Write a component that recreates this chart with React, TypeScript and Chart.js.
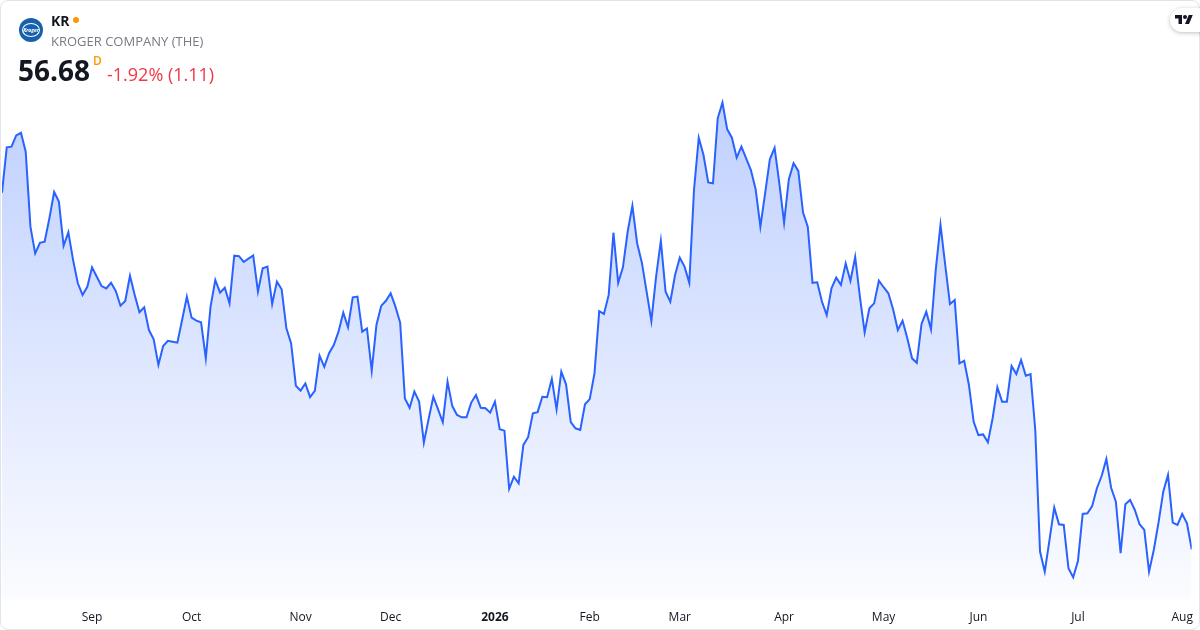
import React, { useEffect, useRef } from "react";
import { Chart, registerables } from "chart.js";

Chart.register(...registerables);

// ---- header texts ----
const SYMBOL = "KR";
const COMPANY = "KROGER COMPANY (THE)";
const LAST_PRICE = "56.68";
const INTERVAL = "D";
const CHANGE_TEXT = "-1.92% (1.11)";

// ---- daily closes, one array per month (trading days) ----
const aug2025 = [71.92, 73.86, 73.89, 74.37, 74.48, 73.67, 70.47, 69.33, 69.78, 69.83, 70.83, 71.95, 71.54, 69.65, 70.23, 69.04, 68.05, 67.55, 67.9];
const sep2025 = [68.73, 68.33, 67.93, 67.83, 68.07, 67.72, 67.09, 67.29, 68.37, 67.55, 66.81, 67.02, 66.05, 65.65, 64.56, 65.37, 65.59, 65.55, 65.51, 66.48, 67.47];
const oct2025 = [66.58, 66.45, 66.38, 64.84, 67.05, 68.19, 67.65, 67.86, 67.19, 69.23, 69.21, 68.96, 69.1, 69.24, 67.69, 68.69, 68.76, 67.16, 68.12, 67.79, 66.12, 65.48, 63.67];
const nov2025 = [63.46, 63.77, 63.18, 63.45, 64.95, 64.48, 65.06, 65.41, 65.98, 66.79, 66.17, 67.45, 67.48, 65.98, 66.12, 64.31, 66.27, 67.08, 67.3];
const dec2025 = [67.62, 67.05, 66.37, 63.13, 62.73, 63.42, 62.99, 61.24, 62.24, 63.2, 62.66, 62.11, 63.84, 62.8, 62.42, 62.32, 62.32, 62.95, 63.27, 62.73, 62.71, 62.52];
const jan2026 = [62.99, 61.81, 61.75, 59.26, 59.78, 59.5, 61.14, 61.47, 62.49, 62.54, 63.2, 63.18, 63.96, 62.66, 64.27, 63.73, 62.11, 61.85, 61.78, 62.88];
const feb2026 = [63.1, 64.2, 66.86, 66.74, 67.55, 70.21, 68.07, 68.73, 70.25, 71.36, 69.76, 68.93, 67.69, 66.44, 68.33, 69.86, 67.69, 67.26, 68.4];
const mar2026 = [69.14, 68.76, 68.07, 72.04, 74.27, 73.53, 72.36, 72.32, 75.1, 75.77, 74.63, 74.27, 73.42, 73.89, 73.39, 72.89, 72.07, 70.47, 71.89, 73.35, 73.84, 72.32];
const apr2026 = [70.64, 72.49, 73.18, 72.85, 71.07, 70.47, 68.07, 68.09, 67.26, 66.69, 67.83, 68.29, 67.98, 68.9, 68.15, 69.18, 67.47, 65.95, 66.98, 67.19, 68.16];
const may2026 = [67.88, 67.62, 66.94, 66.05, 66.45, 65.7, 64.84, 64.65, 66.31, 66.83, 66.08, 68.62, 70.55, 68.83, 67.16, 67.33, 64.63, 64.74, 63.7, 62.13];
const jun2026 = [61.56, 61.59, 61.25, 62.28, 63.6, 62.99, 62.99, 64.51, 64.17, 64.77, 64.1, 64.17, 61.78, 56.58, 55.72, 57.08, 58.46, 57.75, 57.72, 55.87, 55.48];
const jul2026 = [56.18, 58.19, 58.22, 58.53, 59.29, 59.81, 60.54, 59.31, 58.71, 56.51, 58.6, 58.79, 58.36, 57.75, 57.51, 55.72, 56.65, 57.82, 59.14, 59.86, 57.82, 57.72];
const aug2026 = [58.19, 57.79, 56.68];

const monthSeries = [aug2025, sep2025, oct2025, nov2025, dec2025, jan2026, feb2026, mar2026, apr2026, may2026, jun2026, jul2026, aug2026];
// tick label shown at the first trading day of each month array
const monthLabels = ["", "Sep", "Oct", "Nov", "Dec", "2026", "Feb", "Mar", "Apr", "May", "Jun", "Jul", "Aug"];
const boldLabels = ["2026"];

// visible price range of the pane
const Y_MIN = 54.52;
const Y_MAX = 76.31;

const FONT = "'Open Sans', 'Noto Sans', Arial, sans-serif";

const prices: number[] = monthSeries.flat();
const tickPositions: number[] = [];
const tickText: Record<number, string> = {};
{
  let start = 0;
  monthSeries.forEach((m, k) => {
    if (monthLabels[k]) {
      tickPositions.push(start);
      tickText[start] = monthLabels[k];
    }
    start += m.length;
  });
}

function ChartCanvas() {
  const ref = useRef<HTMLCanvasElement | null>(null);
  useEffect(() => {
    if (!ref.current) return;
    const chart = new Chart(ref.current, {
      type: "line",
      data: {
        datasets: [
          {
            data: prices.map((v, i) => ({ x: i, y: v })),
            borderColor: "#2962ff",
            borderWidth: 2,
            pointRadius: 0,
            pointHoverRadius: 0,
            tension: 0,
            fill: "start",
            backgroundColor: (ctx: any) => {
              const { chart } = ctx;
              const area = chart.chartArea;
              if (!area) return "rgba(41,98,255,0.15)";
              const g = chart.ctx.createLinearGradient(0, area.top, 0, area.bottom);
              g.addColorStop(0, "rgba(41,98,255,0.30)");
              g.addColorStop(1, "rgba(41,98,255,0.02)");
              return g;
            },
          },
        ],
      },
      options: {
        animation: false,
        responsive: true,
        maintainAspectRatio: false,
        layout: { padding: { left: 2, right: 8.3, top: 90, bottom: 0 } },
        plugins: { legend: { display: false }, tooltip: { enabled: false } },
        events: [],
        scales: {
          x: {
            type: "linear",
            min: 0,
            max: prices.length - 1,
            grid: { display: false, drawTicks: false },
            border: { display: false },
            afterBuildTicks: (scale: any) => {
              scale.ticks = tickPositions.map((v) => ({ value: v }));
            },
            afterFit: (scale: any) => {
              scale.paddingLeft = 0;
              scale.paddingRight = 0;
              scale.height = 30.2;
            },
            ticks: {
              autoSkip: false,
              maxRotation: 0,
              padding: 11,
              color: "#131722",
              font: (ctx: any) => ({
                family: FONT,
                size: 12,
                weight: ctx.tick && boldLabels.includes(ctx.tick.label) ? "bold" : "normal",
              }),
              callback: (v: any) => tickText[v as number] ?? "",
            },
          },
          y: { display: false, min: Y_MIN, max: Y_MAX },
        },
      },
    } as any);
    return () => chart.destroy();
  }, []);
  return <canvas ref={ref} />;
}

export default function App() {
  return (
    <div
      style={{
        position: "fixed",
        left: 0,
        top: 0,
        width: 1200,
        height: 630,
        background: "#ffffff",
        overflow: "hidden",
        fontFamily: FONT,
      }}
    >
      <div style={{ position: "absolute", left: 0, top: 0, width: 1200, height: 630 }}>
        <ChartCanvas />
      </div>
      {/* frame */}
      <div
        style={{
          position: "absolute",
          left: 0,
          top: 0,
          width: 1200,
          height: 630,
          boxSizing: "border-box",
          border: "1px solid #e0e3eb",
          borderRadius: 8,
          pointerEvents: "none",
        }}
      />
      {/* logo */}
      <div
        style={{
          position: "absolute",
          left: 19,
          top: 18,
          width: 24,
          height: 24,
          borderRadius: 12,
          background: "#1660ad",
          display: "flex",
          alignItems: "center",
          justifyContent: "center",
        }}
      >
        <div
          style={{
            width: 18,
            height: 14,
            borderRadius: "50%",
            border: "1px solid #ffffff",
            boxSizing: "border-box",
            display: "flex",
            alignItems: "center",
            justifyContent: "center",
            color: "#ffffff",
            fontSize: 5,
            fontStyle: "italic",
            fontWeight: 700,
            lineHeight: "6px",
          }}
        >
          Kroger
        </div>
      </div>
      <div
        style={{
          position: "absolute",
          left: 51,
          top: 12,
          fontSize: 14,
          lineHeight: "18px",
          fontWeight: 700,
          color: "#131722",
        }}
      >
        {SYMBOL}
      </div>
      <div
        style={{
          position: "absolute",
          left: 73,
          top: 17,
          width: 6,
          height: 6,
          borderRadius: 3,
          background: "#ff9800",
        }}
      />
      <div
        style={{
          position: "absolute",
          left: 51,
          top: 32.6,
          fontSize: 13,
          lineHeight: "16px",
          color: "#787b86",
          whiteSpace: "nowrap",
        }}
      >
        {COMPANY}
      </div>
      <div
        style={{
          position: "absolute",
          left: 18,
          top: 53,
          fontSize: 28,
          lineHeight: "34px",
          fontWeight: 700,
          color: "#131722",
        }}
      >
        {LAST_PRICE}
      </div>
      <div
        style={{
          position: "absolute",
          left: 93,
          top: 54,
          fontSize: 12,
          lineHeight: "14px",
          fontWeight: 600,
          color: "#ff9800",
        }}
      >
        {INTERVAL}
      </div>
      <div
        style={{
          position: "absolute",
          left: 107,
          top: 63,
          fontSize: 18,
          lineHeight: "22px",
          color: "#f23645",
          whiteSpace: "nowrap",
        }}
      >
        {CHANGE_TEXT}
      </div>
      {/* TradingView badge */}
      <div
        style={{
          position: "absolute",
          left: 1170,
          top: 8,
          width: 44,
          height: 24,
          borderRadius: 12,
          background: "#ffffff",
          boxShadow: "0 1px 4px rgba(0,0,0,0.25)",
        }}
      >
        <svg
          width="18"
          height="14"
          viewBox="0 0 36 28"
          style={{ position: "absolute", left: 5, top: 5 }}
        >
          <path d="M14 22H7V11H0V4h14v18z" fill="#131722" />
          <path d="M28 22h-8l7.5-18h8L28 22z" fill="#131722" />
          <circle cx="20" cy="8" r="4" fill="#131722" />
        </svg>
      </div>
    </div>
  );
}
